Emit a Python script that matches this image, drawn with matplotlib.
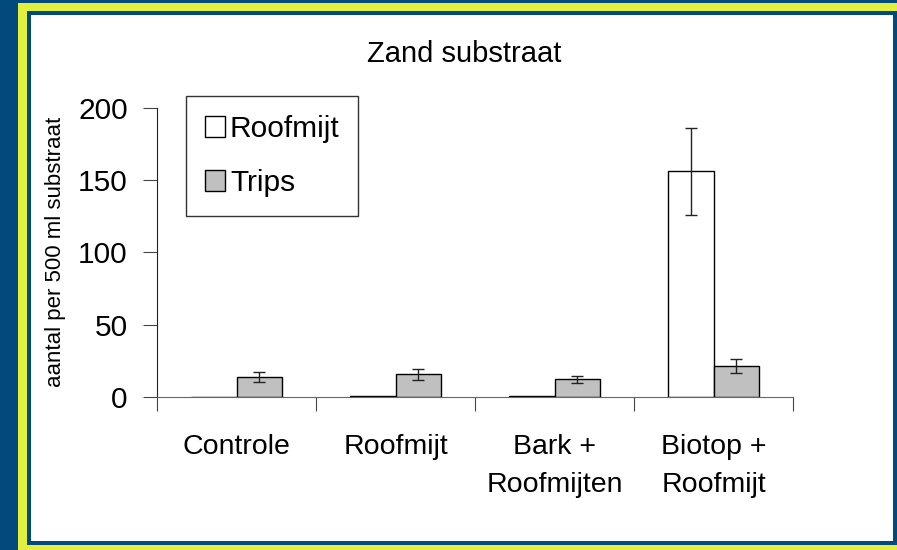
import numpy as np
import matplotlib
matplotlib.use('Agg')
from matplotlib import pyplot as plt
from matplotlib.patches import Rectangle

# data
categories = ['Controle', 'Roofmijt', 'Bark +\nRoofmijten', 'Biotop +\nRoofmijt']
roofmijt = [0.3, 0.8, 1.0, 156.0]
roofmijt_err = [0, 0, 0, 30.0]
trips = [14.0, 15.7, 12.2, 21.6]
trips_err = [3.6, 3.9, 2.6, 4.7]

plt.rcParams['font.family'] = ['Liberation Sans', 'DejaVu Sans']

W, H = 897, 550
fg = plt.figure(figsize=(W/100, H/100), dpi=100)
fg.patch.set_facecolor('#014a7b')

def px_rect(x0, y0, x1, y1, color):
    # rectangle in pixel coords measured from the top-left
    fg.patches.append(Rectangle((x0/W, 1-y1/H), (x1-x0)/W, (y1-y0)/H,
                                transform=fg.transFigure, facecolor=color,
                                edgecolor='none', zorder=-10))

px_rect(18, 3, W+5, H+5, '#e2ef3c')
px_rect(27, 11, W, 545, '#014a7b')
px_rect(31, 15, 893, 541, 'white')

ax = fg.add_axes([157/W, 1-397/H, (793-157)/W, (397-107.7)/H])
ax.set_facecolor('none')

x = np.arange(len(categories))
w = 0.286
ek = dict(ecolor='#222', elinewidth=1, capsize=4, capthick=1)
ax.bar(x - w/2, roofmijt, w, color='white', edgecolor='black', linewidth=1,
       label='Roofmijt')
ax.errorbar(x[3] - w/2, roofmijt[3], yerr=roofmijt_err[3], fmt='none', **ek)
ax.bar(x + w/2, trips, w, color='#c0c0c0', edgecolor='black', linewidth=1,
       yerr=trips_err, error_kw=ek, label='Trips')

ax.set_xlim(-0.5, 3.5)
ax.set_ylim(0, 200)
ax.set_yticks([0, 50, 100, 150, 200])
ax.set_xticks(np.arange(-0.5, 4, 1))
ax.set_xticklabels([])
ax.set_xticks(x, minor=True)
ax.set_xticklabels(categories, minor=True, fontsize=20.5, linespacing=1.55)
ax.tick_params(axis='x', which='minor', length=0, pad=27)
ax.tick_params(axis='x', which='major', length=10, direction='out', color='#444')
ax.tick_params(axis='y', length=10, direction='out', labelsize=21.5, pad=11, color='#444')

for s in ['top', 'right']:
    ax.spines[s].set_visible(False)
ax.spines['left'].set_color('#222')
ax.spines['bottom'].set_color('#666')

ax.set_ylabel('aantal per 500 ml substraat', fontsize=16)
ax.yaxis.set_label_coords((66-157)/(793-157), 0.5)
fg.text(464/W, 1-54/H, 'Zand substraat', ha='center', va='center', fontsize=21)

leg = ax.legend(loc='upper left', bbox_to_anchor=((186-157)/(793-157), 1+(107.7-96)/(397-107.7)),
                borderaxespad=0, frameon=True, fancybox=False, fontsize=21.5,
                handlelength=0.7, handleheight=0.7, handletextpad=0.15,
                labelspacing=0.9, borderpad=0.62, edgecolor='black')
leg.get_frame().set_linewidth(1)

fg.savefig('out.png', dpi=100, facecolor=fg.get_facecolor())
